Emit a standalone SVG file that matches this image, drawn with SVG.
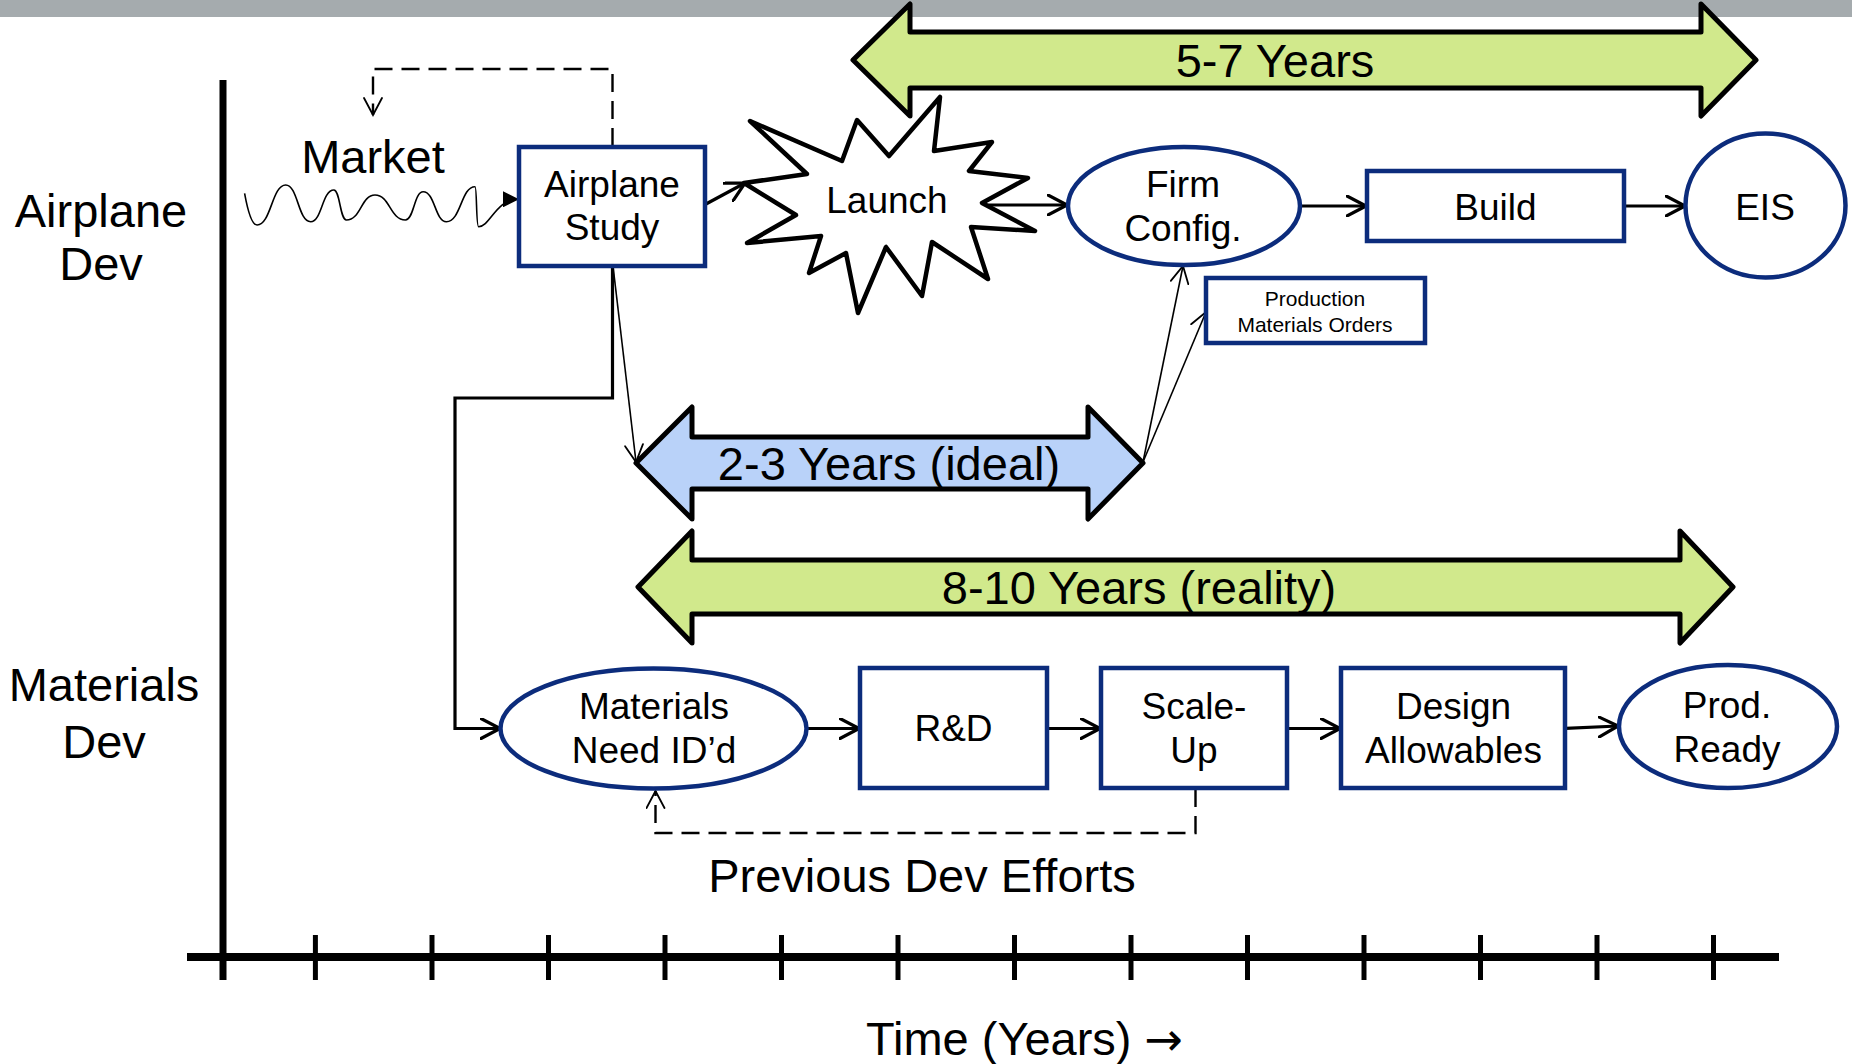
<svg xmlns="http://www.w3.org/2000/svg" width="1852" height="1064" viewBox="0 0 1852 1064">
<style>
  text { font-family: "Liberation Sans", Arial, sans-serif; fill: #000; }
  .big { font-size: 47px; }
  .node { font-size: 37px; text-anchor: middle; }
  .small { font-size: 21px; text-anchor: middle; }
  .box { fill: #fff; stroke: #0c2c7c; stroke-width: 4.5; }
  .conn { fill: none; stroke: #000; stroke-width: 3.2; }
  .thin { fill: none; stroke: #000; stroke-width: 1.6; }
  .dash { fill: none; stroke: #000; stroke-width: 2.4; stroke-dasharray: 18 9; }
  .span { stroke: #000; stroke-width: 5; stroke-linejoin: round; }
  .axis { stroke: #000; fill: none; }
</style>
<defs>
  <marker id="open" viewBox="0 0 22 22" refX="20" refY="11" markerWidth="22" markerHeight="22" markerUnits="userSpaceOnUse" orient="auto">
    <path d="M1,1 L20,11 L1,21" fill="none" stroke="#000" stroke-width="3.2" stroke-linecap="round" stroke-linejoin="round"/>
  </marker>
  <marker id="openThin" viewBox="0 0 20 20" refX="18" refY="10" markerWidth="20" markerHeight="20" markerUnits="userSpaceOnUse" orient="auto">
    <path d="M1,1 L18,10 L1,19" fill="none" stroke="#000" stroke-width="1.8" stroke-linecap="round"/>
  </marker>
  <marker id="filled" viewBox="0 0 16 16" refX="15" refY="8" markerWidth="16" markerHeight="16" markerUnits="userSpaceOnUse" orient="auto">
    <path d="M0,0 L16,8 L0,16 Z" fill="#000"/>
  </marker>
</defs>

<!-- header bar -->
<rect x="0" y="0" width="1852" height="17" fill="#a5abae"/>

<!-- axes -->
<g id="axes">
  <line class="axis" x1="223" y1="80" x2="223" y2="980" stroke-width="7"/>
  <line class="axis" x1="187" y1="957" x2="1779" y2="957" stroke-width="8"/>
  <g stroke="#000" stroke-width="5">
    <line x1="315.4" y1="935" x2="315.4" y2="980"/>
    <line x1="432" y1="935" x2="432" y2="980"/>
    <line x1="548.5" y1="935" x2="548.5" y2="980"/>
    <line x1="665" y1="935" x2="665" y2="980"/>
    <line x1="781.5" y1="935" x2="781.5" y2="980"/>
    <line x1="898" y1="935" x2="898" y2="980"/>
    <line x1="1014.5" y1="935" x2="1014.5" y2="980"/>
    <line x1="1131" y1="935" x2="1131" y2="980"/>
    <line x1="1247.5" y1="935" x2="1247.5" y2="980"/>
    <line x1="1364" y1="935" x2="1364" y2="980"/>
    <line x1="1480.5" y1="935" x2="1480.5" y2="980"/>
    <line x1="1597" y1="935" x2="1597" y2="980"/>
    <line x1="1713.5" y1="935" x2="1713.5" y2="980"/>
  </g>
  <text class="big" x="866" y="1055">Time (Years) <tspan font-family="'DejaVu Sans', sans-serif" font-size="46">→</tspan></text>
</g>

<!-- lane labels -->
<g id="lane-airplane">
  <text class="big" text-anchor="middle" x="101" y="227">Airplane</text>
  <text class="big" text-anchor="middle" x="101" y="280">Dev</text>
</g>
<g id="lane-materials">
  <text class="big" text-anchor="middle" x="104" y="701">Materials</text>
  <text class="big" text-anchor="middle" x="104" y="758">Dev</text>
</g>

<!-- span arrows -->
<g id="span-5-7">
  <polygon class="span" fill="#d1e98c" points="853,60 910,4 910,32 1701,32 1701,4 1756,60 1701,116 1701,88 910,88 910,116"/>
  <text class="big" text-anchor="middle" x="1275" y="77">5-7 Years</text>
</g>
<g id="span-2-3">
  <polygon class="span" fill="#b9d2f9" points="636,463 692,407 692,437 1088,437 1088,407 1143,463 1088,519 1088,489 692,489 692,519"/>
  <text class="big" text-anchor="middle" x="889" y="480">2-3 Years (ideal)</text>
</g>
<g id="span-8-10">
  <polygon class="span" fill="#d1e98c" points="638,587 692,531 692,560 1680,560 1680,531 1733,587 1680,643 1680,614 692,614 692,643"/>
  <text class="big" text-anchor="middle" x="1139" y="604">8-10 Years (reality)</text>
</g>

<!-- connectors -->
<g id="connectors">
  <path class="thin" marker-end="url(#filled)" d="M244.6,193.3 C248,212 252,225 257.1,225 C271,225 272,185 285.7,185 C298,185 298,221.7 310.7,221.7 C322,221.7 322,190 333.9,190 C340,190 340,220 346.4,220 C361,220 361,195 375,195 C390,195 390,220 405.4,220 C414,220 414,191.7 423.2,191.7 C435,191.7 435,221.7 446.4,221.7 C461,221.7 461,186.7 475,186.7 C477,186.7 476,226.7 478.6,226.7 C490,226.7 496,199.3 518,199.3"/>
  <path class="dash" marker-end="url(#openThin)" d="M612.5,146 V69 H373 V115"/>
  <line class="conn" marker-end="url(#open)" x1="706" y1="204" x2="745" y2="183"/>
  <line class="conn" marker-end="url(#open)" x1="984" y1="205" x2="1067" y2="205"/>
  <line class="conn" marker-end="url(#open)" x1="1300" y1="206" x2="1366" y2="206"/>
  <line class="conn" marker-end="url(#open)" x1="1624" y1="206" x2="1685" y2="206"/>
  <line class="thin" marker-end="url(#openThin)" x1="613" y1="266" x2="636" y2="462"/>
  <line class="thin" marker-end="url(#openThin)" x1="1143" y1="462" x2="1183" y2="266"/>
  <line class="thin" marker-end="url(#openThin)" x1="1143" y1="462" x2="1206" y2="312"/>
  <path class="conn" marker-end="url(#open)" d="M612.5,266 V398 H455 V728.5 H500"/>
  <line class="conn" marker-end="url(#open)" x1="807" y1="728.5" x2="859" y2="728.5"/>
  <line class="conn" marker-end="url(#open)" x1="1047" y1="728.5" x2="1100" y2="728.5"/>
  <line class="conn" marker-end="url(#open)" x1="1287" y1="728.5" x2="1340" y2="728.5"/>
  <line class="conn" marker-end="url(#open)" x1="1565.5" y1="728.3" x2="1618" y2="726"/>
  <path class="dash" marker-end="url(#openThin)" d="M1195.5,789 V833 H655.5 V791"/>
</g>

<!-- nodes -->
<g id="market">
  <text class="big" text-anchor="middle" x="373" y="173">Market</text>
</g>
<g id="airplane-study">
  <rect class="box" x="519" y="147" width="186" height="119"/>
  <text class="node" x="612" y="197">Airplane</text>
  <text class="node" x="612" y="240">Study</text>
</g>
<g id="launch">
  <polygon fill="#fff" stroke="#000" stroke-width="4.5" stroke-linejoin="round" points="744,183 807,174 750,121 842,161 857,120 889,156 940,97 934,151 992,142 969,171 1028,178 982,203 1035,231 971,227 988,279 932,242 922,296 886,247 858,313 846,253 809,273 821,236 747,243 796,215"/>
  <text class="node" x="887" y="213">Launch</text>
</g>
<g id="firm-config">
  <ellipse class="box" cx="1184" cy="206" rx="116" ry="59"/>
  <text class="node" x="1183" y="197">Firm</text>
  <text class="node" x="1183" y="241">Config.</text>
</g>
<g id="build">
  <rect class="box" x="1367" y="171" width="257" height="70"/>
  <text class="node" x="1495.5" y="220">Build</text>
</g>
<g id="eis">
  <ellipse class="box" cx="1765.5" cy="205.5" rx="80" ry="72"/>
  <text class="node" x="1765" y="220">EIS</text>
</g>
<g id="production-materials-orders">
  <rect class="box" x="1206" y="278" width="219" height="65"/>
  <text class="small" x="1315" y="306">Production</text>
  <text class="small" x="1315" y="332">Materials Orders</text>
</g>
<g id="materials-need">
  <ellipse class="box" cx="653.5" cy="728.5" rx="153" ry="60"/>
  <text class="node" x="654" y="719">Materials</text>
  <text class="node" x="654" y="763">Need ID’d</text>
</g>
<g id="rd">
  <rect class="box" x="860" y="668" width="187" height="120"/>
  <text class="node" x="953.5" y="741">R&amp;D</text>
</g>
<g id="scale-up">
  <rect class="box" x="1101" y="668" width="186" height="120"/>
  <text class="node" x="1194" y="719">Scale-</text>
  <text class="node" x="1194" y="763">Up</text>
</g>
<g id="design-allowables">
  <rect class="box" x="1341" y="668" width="224" height="120"/>
  <text class="node" x="1453.5" y="719">Design</text>
  <text class="node" x="1453.5" y="763">Allowables</text>
</g>
<g id="prod-ready">
  <ellipse class="box" cx="1728" cy="726.5" rx="109" ry="61.5"/>
  <text class="node" x="1727" y="718">Prod.</text>
  <text class="node" x="1727" y="762">Ready</text>
</g>
<g id="previous-dev">
  <text class="big" text-anchor="middle" x="922" y="892">Previous Dev Efforts</text>
</g>
</svg>
